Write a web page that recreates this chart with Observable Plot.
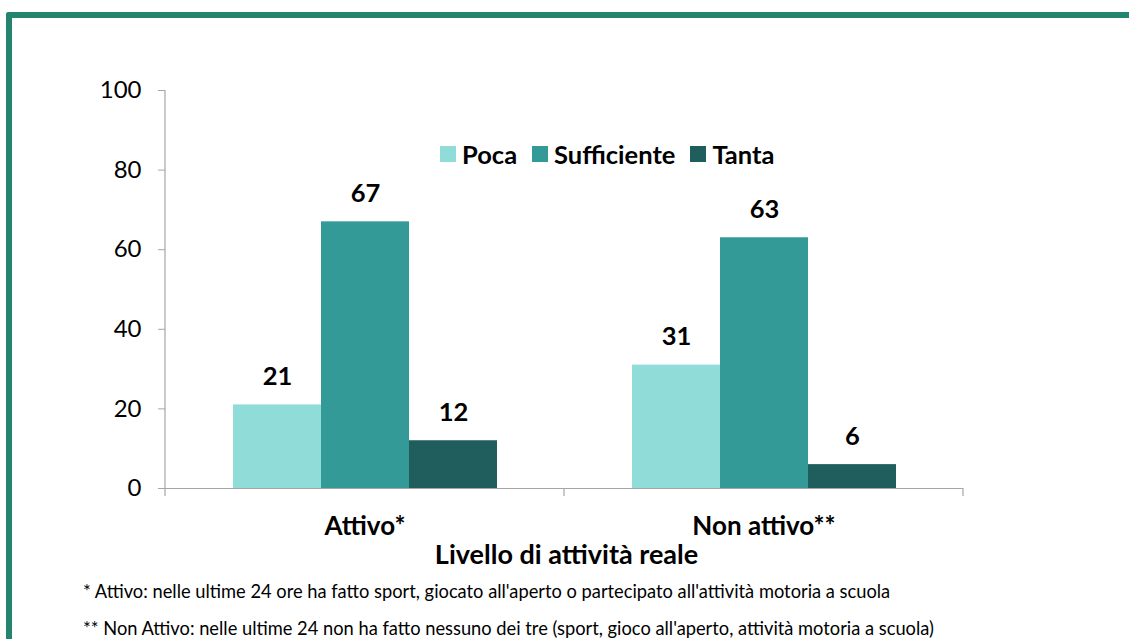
<!DOCTYPE html>
<html>
<head>
<meta charset="utf-8">
<script src="https://cdn.jsdelivr.net/npm/d3@7"></script>
<script src="https://cdn.jsdelivr.net/npm/@observablehq/plot@0.6"></script>
<style>
  html, body { margin: 0; padding: 0; background: #fff; }
  body { font-family: Lato, "Open Sans", sans-serif; }
  #wrap { position: relative; width: 1129px; height: 639px; overflow: hidden; }
  #border { position: absolute; left: 6px; top: 12px; width: 1200px; height: 700px;
            border-top: 6px solid #23856e; border-left: 6px solid #23856e; border-top-left-radius: 3px; }
  #chart { position: absolute; left: 0; top: 0; }
  #legend { position: absolute; left: 440px; top: 139px; display: flex; align-items: center;
            font-weight: bold; font-size: 25.5px; line-height: 30px; color: #000; }
  #legend .item { display: flex; align-items: center; margin-right: 15px; }
  #legend .sw { width: 16px; height: 16px; margin-right: 6px; }
  #xtitle { position: absolute; left: 0; width: 1129px; top: 538px; text-align: center; line-height: 32px;
            font-weight: bold; font-size: 27px; color: #000; padding-left: 2px; }
  .note { position: absolute; left: 83px; font-size: 18.3px; line-height: 22px; color: #000; white-space: nowrap; }
</style>
</head>
<body>
<div id="wrap">
  <div id="border"></div>
  <div id="chart"></div>
  <div id="legend"></div>
  <div id="xtitle"></div>
  <div class="note" id="note1" style="top:580px"></div>
  <div class="note" id="note2" style="top:617px"></div>
</div>
<script>
const groups = ["Attivo*", "Non attivo**"];
const series = ["Poca", "Sufficiente", "Tanta"];
const colors = ["#8fdcd9", "#339a98", "#1f5e5c"];
const valuesAttivo = [21, 67, 12];
const valuesNonAttivo = [31, 63, 6];
const yTicks = [0, 20, 40, 60, 80, 100];
const xTitle = "Livello di attività reale";
const notes = [
  "* Attivo: nelle ultime 24 ore ha fatto sport, giocato all'aperto o partecipato all'attività motoria a scuola",
  "** Non Attivo: nelle ultime 24 non ha fatto nessuno dei tre (sport, gioco all'aperto, attività motoria a scuola)"
];

const data = [];
[valuesAttivo, valuesNonAttivo].forEach((vals, gi) => {
  vals.forEach((v, si) => data.push({group: groups[gi], series: series[si], value: v}));
});

const plot = Plot.plot({
  width: 1129,
  height: 540,
  marginLeft: 164,
  marginRight: 166,
  marginTop: 90,
  marginBottom: 52,
  style: {fontFamily: "Lato, 'Open Sans', sans-serif", color: "#000", background: "transparent"},
  fx: {domain: groups, padding: 0, label: null},
  x: {domain: series, paddingInner: 0, paddingOuter: 0.765, axis: null},
  y: {domain: [0, 100], label: null},
  color: {domain: series, range: colors},
  marks: [
    Plot.axisY({ticks: yTicks, tickSize: 7, tickPadding: 17, fontSize: 24, stroke: "#a6a6a6", label: null, tickFormat: d => d}),
    Plot.axisFx({anchor: "bottom", tickSize: 0, tickPadding: 28, fontSize: 26, fontWeight: "bold", label: null}),
    Plot.barY(data, {fx: "group", x: "series", y: "value", fill: "series", inset: 0}),
    Plot.ruleY([0], {stroke: "#a6a6a6", strokeWidth: 1.2}),
    Plot.text(data, {fx: "group", x: "series", y: "value", text: d => String(d.value), dy: -28, fontSize: 25.5, fontWeight: "bold", fill: "#000"})
  ]
});
document.getElementById("chart").appendChild(plot);

// Excel-style axis lines and category-boundary ticks, positioned through Plot's own scales
const svg = d3.select(plot);
const fx = plot.scale("fx");
const ys = plot.scale("y");
const y0 = ys.apply(0), y100 = ys.apply(100);
const left = fx.apply(groups[0]);
const step = fx.step;
svg.append("line").attr("x1", left).attr("x2", left).attr("y1", y100).attr("y2", y0)
  .attr("stroke", "#a6a6a6").attr("stroke-width", 1.2);
const bounds = groups.map(g => fx.apply(g)).concat([fx.apply(groups[groups.length - 1]) + step]);
bounds.forEach(b => {
  svg.append("line").attr("x1", b).attr("x2", b).attr("y1", y0).attr("y2", y0 + 8)
    .attr("stroke", "#a6a6a6").attr("stroke-width", 1.2);
});

// Legend
const legend = d3.select("#legend");
series.forEach((s, i) => {
  const it = legend.append("div").attr("class", "item");
  it.append("div").attr("class", "sw").style("background", colors[i]);
  it.append("span").text(s);
});
document.getElementById("xtitle").textContent = xTitle;
document.getElementById("note1").textContent = notes[0];
document.getElementById("note2").textContent = notes[1];
</script>
</body>
</html>
